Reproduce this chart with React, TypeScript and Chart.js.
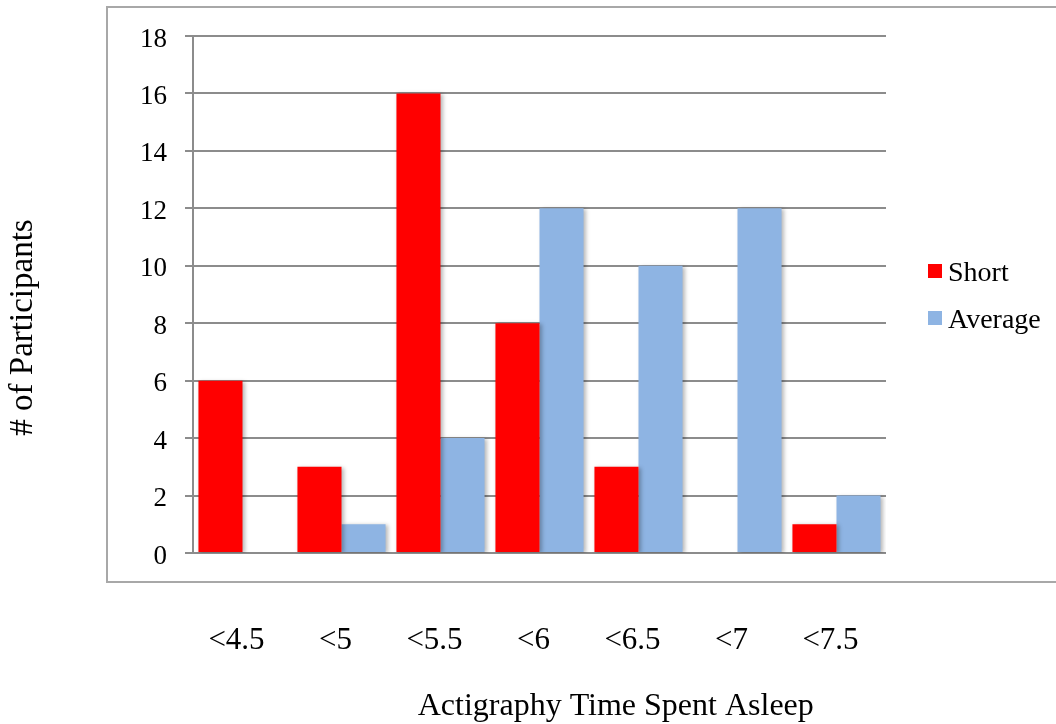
import React, { useEffect, useRef } from "react";
import { Chart, registerables } from "chart.js";

Chart.register(...registerables);

// Sleep-duration bins and participant counts per group
const categories = ["<4.5", "<5", "<5.5", "<6", "<6.5", "<7", "<7.5"];
const shortCounts = [6, 3, 16, 8, 3, 0, 1];
const averageCounts = [0, 1, 4, 12, 10, 12, 2];
const seriesNames = ["Short", "Average"];
const seriesColors = ["#FF0000", "#8EB4E3"];
const yMin = 0;
const yMax = 18;
const yStep = 2;
const xTitle = "Actigraphy Time Spent Asleep";
const yTitle = "# of Participants";

const SERIF = "'Liberation Serif', 'Times New Roman', serif";
const GRID = "#8c8c8c";

// Frame, legend, axis titles and soft bar shadows
const decorations = {
  id: "decorations",
  beforeDraw(chart: any) {
    const { ctx, chartArea } = chart;
    ctx.save();
    ctx.strokeStyle = "#a8a8a8";
    ctx.lineWidth = 2;
    const left = chartArea.left - 86;
    const top = chartArea.top - 29;
    const bottom = chartArea.bottom + 29;
    ctx.strokeRect(left, top, chart.width + 20 - left, bottom - top);
    ctx.restore();
  },
  beforeDatasetsDraw(chart: any) {
    const ctx = chart.ctx;
    ctx.save();
    ctx.shadowColor = "rgba(0,0,0,0.28)";
    ctx.shadowBlur = 4;
    ctx.shadowOffsetX = 2;
    ctx.shadowOffsetY = 1;
  },
  afterDatasetsDraw(chart: any) {
    chart.ctx.restore();
  },
  afterDraw(chart: any) {
    const { ctx, chartArea } = chart;
    ctx.save();
    // legend
    const lx = chartArea.right + 42;
    const midY = (chartArea.top + chartArea.bottom) / 2;
    const rowGap = 47;
    ctx.font = `28px ${SERIF}`;
    ctx.textBaseline = "middle";
    ctx.textAlign = "left";
    chart.data.datasets.forEach((ds: any, i: number) => {
      const cy = midY - 20.5 + i * rowGap;
      ctx.fillStyle = ds.backgroundColor;
      ctx.fillRect(lx, cy - 10, 14, 14);
      ctx.fillStyle = "#000";
      ctx.fillText(ds.label, lx + 20, cy);
    });
    // x axis title
    ctx.font = `32px ${SERIF}`;
    ctx.textAlign = "center";
    ctx.fillText(xTitle, chartArea.left + 0.61 * (chartArea.right - chartArea.left), chartArea.bottom + 154);
    // y axis title
    ctx.font = `33px ${SERIF}`;
    ctx.translate(23, midY + 33);
    ctx.rotate(-Math.PI / 2);
    ctx.fillText(yTitle, 0, 0);
    ctx.restore();
  },
};

export default function App() {
  const canvasRef = useRef<HTMLCanvasElement | null>(null);

  useEffect(() => {
    const canvas = canvasRef.current;
    if (!canvas) return;
    const chart = new Chart(canvas, {
      type: "bar",
      data: {
        labels: categories,
        datasets: [
          {
            label: seriesNames[0],
            data: shortCounts,
            backgroundColor: seriesColors[0],
            borderWidth: 0,
          },
          {
            label: seriesNames[1],
            data: averageCounts,
            backgroundColor: seriesColors[1],
            borderWidth: 0,
          },
        ],
      },
      options: {
        animation: false,
        responsive: false,
        devicePixelRatio: 1,
        layout: { padding: { top: 36, right: 170, bottom: 0, left: 0 } },
        datasets: {
          bar: { categoryPercentage: 0.89, barPercentage: 1 },
        },
        plugins: {
          legend: { display: false },
          tooltip: { enabled: false },
        },
        scales: {
          x: {
            grid: { display: false, drawTicks: false },
            border: { display: false },
            ticks: {
              color: "#000",
              font: { family: SERIF, size: 31 },
              padding: 69,
              labelOffset: -6,
              maxRotation: 0,
              autoSkip: false,
            },
            afterFit(scale: any) {
              scale.height = 171;
            },
          },
          y: {
            min: yMin,
            max: yMax,
            grid: { color: GRID, lineWidth: 2, drawTicks: true, tickLength: 8 },
            border: { color: GRID, width: 2 },
            ticks: {
              stepSize: yStep,
              color: "#000",
              font: { family: SERIF, size: 27 },
              padding: 18,
              labelOffset: 3.5,
            },
            afterFit(scale: any) {
              scale.width = 193;
            },
          },
        },
      },
      plugins: [decorations],
    });
    return () => chart.destroy();
  }, []);

  return (
    <div style={{ position: "absolute", left: 0, top: 0, width: 1056, height: 724, background: "#fff" }}>
      <canvas ref={canvasRef} width={1056} height={724} style={{ display: "block" }} />
    </div>
  );
}
